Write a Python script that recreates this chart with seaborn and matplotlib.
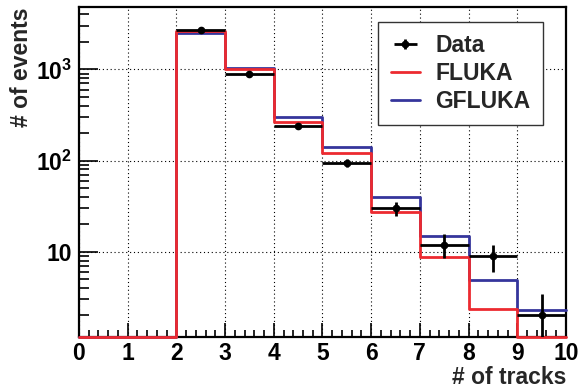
import numpy as np
import pandas as pd
import matplotlib
matplotlib.use('Agg')
import matplotlib.pyplot as plt
from matplotlib.ticker import LogLocator, NullFormatter, FixedLocator, FixedFormatter, AutoMinorLocator
from matplotlib.legend_handler import HandlerErrorbar
import seaborn as sns

# 数据：每个 bin 的径迹数
bin_edges = [0, 1, 2, 3, 4, 5, 6, 7, 8, 9, 10]
data_counts = [0, 0, 2720, 895, 240, 95, 30, 12, 9, 2]
fluka_counts = [0, 0, 2650, 1000, 262, 120, 27.5, 8.7, 2.35, 0]
gfluka_counts = [0, 0, 2480, 1030, 297, 142, 40, 15, 4.85, 2.32]

y_min, y_max = 1.17, 4790

sns.set_style('ticks')
plt.rcParams['font.family'] = ['Liberation Sans', 'DejaVu Sans']
plt.rcParams['font.weight'] = 'bold'
plt.rcParams['mathtext.fontset'] = 'custom'
plt.rcParams['mathtext.rm'] = 'Liberation Sans:bold'
plt.rcParams['mathtext.bf'] = 'Liberation Sans:bold'
plt.rcParams['mathtext.it'] = 'Liberation Sans:bold'

red = '#ec2a30'
blue = '#35359c'

fig, ax = plt.subplots(figsize=(5.79, 3.91), dpi=100)
fig.subplots_adjust(left=0.1364, right=0.9775, bottom=0.1389, top=0.9813)
ax.set_yscale('log')

edges = np.array(bin_edges, dtype=float)
centers = 0.5 * (edges[:-1] + edges[1:])


def step_df(counts):
    # 空 bin 画在坐标轴底部（类似 ROOT）
    vals = np.clip(np.array(counts, dtype=float), y_min, None)
    return pd.DataFrame({'x': edges, 'y': np.append(vals, vals[-1])})


g = step_df(gfluka_counts)
sns.lineplot(data=g, x='x', y='y', ax=ax, color=blue, lw=2, drawstyle='steps-post',
             label='GFLUKA', legend=False, clip_on=False, zorder=3)
f = step_df(fluka_counts)
sns.lineplot(data=f, x='x', y='y', ax=ax, color=red, lw=2, drawstyle='steps-post',
             label='FLUKA', legend=False, clip_on=False, zorder=3.5)

d = np.array(data_counts, dtype=float)
mask = d > 0
eb = ax.errorbar(centers[mask], d[mask], xerr=0.5, yerr=np.sqrt(d[mask]), fmt='o',
                 color='k', ms=4.5, lw=2, capsize=0, label='Data', zorder=5)

ax.set_xlim(0, 10)
ax.set_ylim(y_min, y_max)

ax.xaxis.set_major_locator(FixedLocator(range(0, 11)))
ax.xaxis.set_minor_locator(AutoMinorLocator(5))
ax.yaxis.set_major_locator(FixedLocator([10, 100, 1000]))
ax.yaxis.set_major_formatter(FixedFormatter(['10', '$10^{2}$', '$10^{3}$']))
ax.yaxis.set_minor_locator(LogLocator(base=10, subs=range(2, 10)))
ax.yaxis.set_minor_formatter(NullFormatter())

ax.tick_params(axis='both', which='both', direction='in', top=False, right=False,
               labelsize=16.5, width=1.2, colors='k')
ax.tick_params(axis='x', which='major', length=10, pad=4)
ax.tick_params(axis='x', which='minor', length=5)
ax.tick_params(axis='y', which='major', length=14, pad=5)
ax.tick_params(axis='y', which='minor', length=7)

for s in ax.spines.values():
    s.set_linewidth(1.6)
    s.set_color('k')

ax.grid(True, which='major', linestyle=(0, (1, 2.5)), color='k', lw=0.8)

ax.set_xlabel('# of tracks', fontsize=16.5, fontweight='bold', loc='right')
ax.set_ylabel('# of events', fontsize=16.5, fontweight='bold', loc='top')
ax.xaxis.set_label_coords(1.0, -0.088)
ax.yaxis.set_label_coords(-0.094, 1.0)

handles, labels = ax.get_legend_handles_labels()
order = [labels.index(n) for n in ['Data', 'FLUKA', 'GFLUKA']]
leg = ax.legend([handles[i] for i in order], [labels[i] for i in order],
                loc='upper left', bbox_to_anchor=(0.614, 0.956), borderaxespad=0,
                fontsize=16.5, frameon=True, fancybox=False, framealpha=1,
                edgecolor='#333333', borderpad=0.55, labelspacing=0.2,
                handlelength=1.3, handletextpad=0.65,
                handler_map={eb: HandlerErrorbar(yerr_size=0.22, xerr_size=0.5)})
leg.get_frame().set_linewidth(1.0)

fig.savefig('out.png', dpi=100)
